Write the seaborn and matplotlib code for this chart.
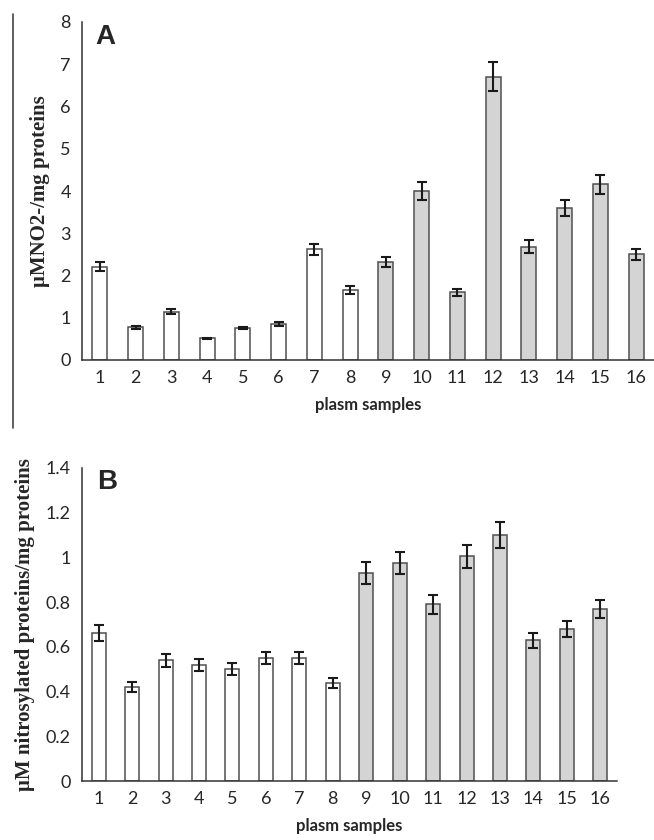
import matplotlib
matplotlib.use('Agg')
import matplotlib.pyplot as plt
import seaborn as sns
import pandas as pd
import numpy as np
from matplotlib.lines import Line2D

samples = [str(i) for i in range(1, 17)]
groups = ['control'] * 8 + ['patient'] * 8

# panel A: nitrite
no2_values = [2.21, 0.77, 1.14, 0.51, 0.76, 0.85, 2.62, 1.65,
              2.32, 4.00, 1.60, 6.71, 2.68, 3.59, 4.16, 2.50]
no2_errors = [0.11, 0.03, 0.06, 0.02, 0.03, 0.05, 0.13, 0.09,
              0.12, 0.21, 0.09, 0.34, 0.15, 0.19, 0.22, 0.13]

# panel B: nitrosylated proteins
nitro_values = [0.663, 0.42, 0.54, 0.52, 0.50, 0.55, 0.55, 0.44,
                0.93, 0.975, 0.79, 1.005, 1.10, 0.63, 0.68, 0.77]
nitro_errors = [0.035, 0.022, 0.028, 0.027, 0.027, 0.028, 0.028, 0.022,
                0.048, 0.049, 0.041, 0.051, 0.057, 0.033, 0.035, 0.040]

PALETTE = {'control': 'white', 'patient': '#d4d4d4'}
EDGE = '#505050'

sns.set_style('white')
plt.rcParams['font.family'] = ['Lato', 'DejaVu Sans']

fig = plt.figure(figsize=(6.54, 8.4), dpi=100)
W, H = 654, 840


def px_axes(left, top, right, bottom):
    return fig.add_axes([left / W, 1 - bottom / H, (right - left) / W, (bottom - top) / H])


def draw_panel(ax, values, errors, ymax, ystep, yticklabels, ylabel, letter, ylabel_x, letter_pos):
    df = pd.DataFrame({'sample': samples, 'value': values, 'group': groups})
    sns.barplot(data=df, x='sample', y='value', hue='group', palette=PALETTE,
                order=samples, dodge=False, width=0.42, edgecolor=EDGE,
                linewidth=1.1, legend=False, ax=ax, errorbar=None)
    ax.errorbar(np.arange(len(samples)), values, yerr=errors, fmt='none',
                ecolor='#1a1a1a', elinewidth=1.5, capsize=3.8, capthick=1.5)
    ax.set_xlim(-0.5, len(samples) - 0.5)
    ax.set_ylim(0, ymax)
    ax.set_yticks(np.arange(0, ymax + ystep / 2, ystep))
    ax.set_yticklabels(yticklabels, fontsize=13)
    ax.set_xticks(np.arange(len(samples)))
    ax.set_xticklabels(samples, fontsize=13)
    ax.set_xticks(np.arange(-0.5, len(samples) - 1, 1), minor=True)
    ax.tick_params(axis='x', which='major', length=0, pad=7)
    ax.tick_params(axis='x', which='minor', length=5, width=1, color='#333333', direction='out')
    ax.tick_params(axis='y', length=5, width=1, color='#333333', direction='out', pad=3)
    for side in ['top', 'right']:
        ax.spines[side].set_visible(False)
    for side in ['left', 'bottom']:
        ax.spines[side].set_color('#333333')
        ax.spines[side].set_linewidth(1.1)
    ax.set_xlabel('plasm samples', fontsize=12, fontweight='bold', labelpad=8)
    ax.set_ylabel('')
    pos = ax.get_position()
    fig.text(ylabel_x / W, (pos.y0 + pos.y1) / 2, ylabel, rotation=90,
             ha='center', va='center', fontsize=15, fontweight='bold',
             family=['Liberation Serif', 'DejaVu Serif'])
    ax.text(letter_pos[0], letter_pos[1], letter, transform=ax.transAxes, fontsize=20,
            fontweight='bold', family=['Liberation Sans', 'DejaVu Sans'], va='top', ha='left')


ax_a = px_axes(82, 22, 654, 360)
draw_panel(ax_a, no2_values, no2_errors, 8, 1,
           ['0', '1', '2', '3', '4', '5', '6', '7', '8'],
           'μMNO2-/mg proteins', 'A', 40, (0.024, 0.995))

ax_b = px_axes(82, 468, 617, 781)
draw_panel(ax_b, nitro_values, nitro_errors, 1.4, 0.2,
           ['0', '0.2', '0.4', '0.6', '0.8', '1', '1.2', '1.4'],
           'μM nitrosylated proteins/mg proteins', 'B', 25, (0.028, 0.998))

# thin vertical rule at the left edge of the top panel
fig.add_artist(Line2D([13 / W, 13 / W], [1 - 14 / H, 1 - 428 / H],
                      color='#444444', linewidth=1.2))

fig.savefig('out.png', dpi=100)
